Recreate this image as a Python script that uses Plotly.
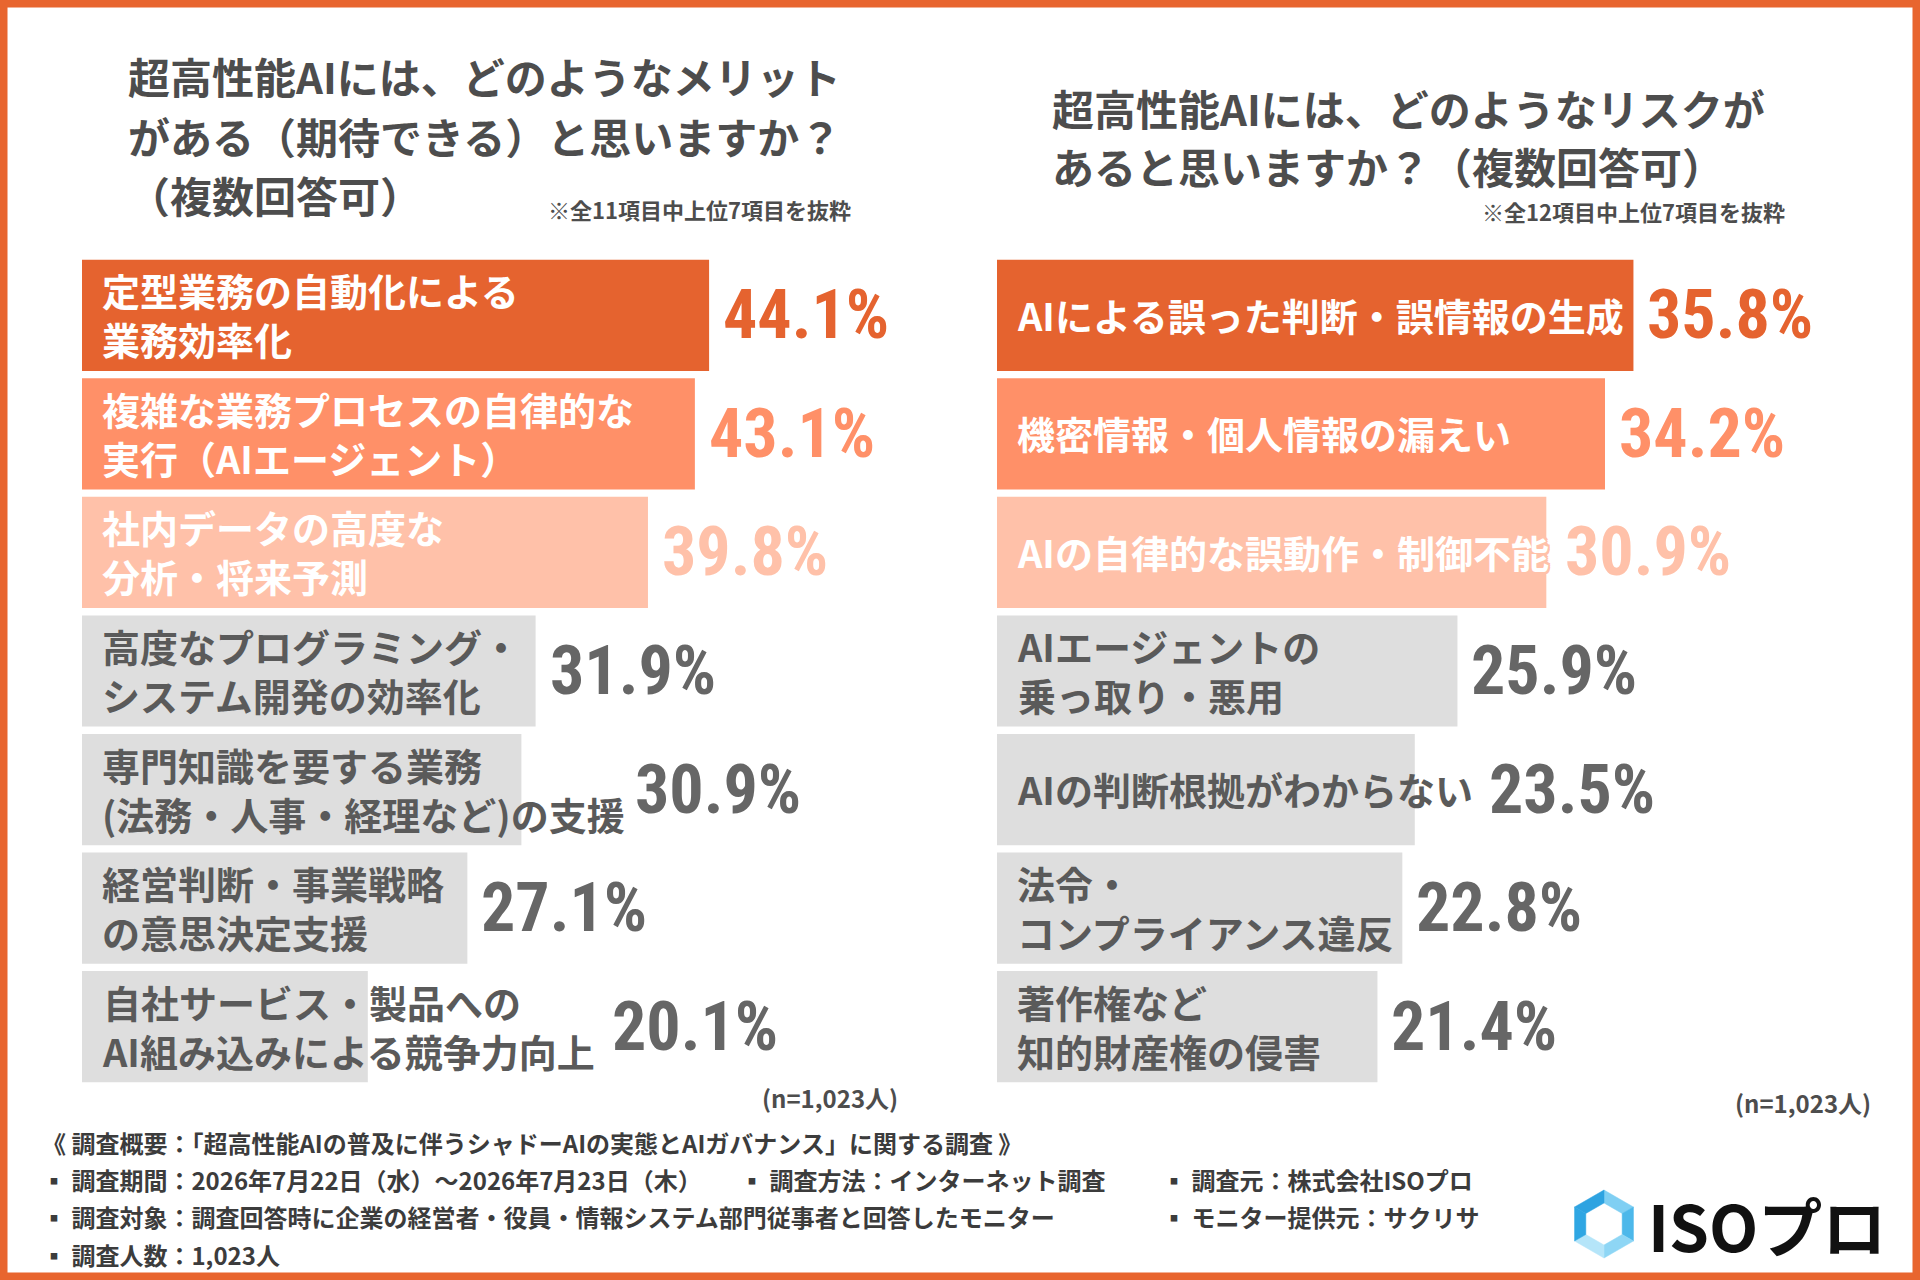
import math
import plotly.graph_objects as go

W, H = 1920, 1280

# ---------------- data ----------------
merit_labels = [
    "定型業務の自動化による\n業務効率化",
    "複雑な業務プロセスの自律的な\n実行（AIエージェント）",
    "社内データの高度な\n分析・将来予測",
    "高度なプログラミング・\nシステム開発の効率化",
    "専門知識を要する業務\n(法務・人事・経理など)の支援",
    "経営判断・事業戦略\nの意思決定支援",
    "自社サービス・製品への\nAI組み込みによる競争力向上",
]
merit_values = [44.1, 43.1, 39.8, 31.9, 30.9, 27.1, 20.1]

risk_labels = [
    "AIによる誤った判断・誤情報の生成",
    "機密情報・個人情報の漏えい",
    "AIの自律的な誤動作・制御不能",
    "AIエージェントの\n乗っ取り・悪用",
    "AIの判断根拠がわからない",
    "法令・\nコンプライアンス違反",
    "著作権など\n知的財産権の侵害",
]
risk_values = [35.8, 34.2, 30.9, 25.9, 23.5, 22.8, 21.4]

merit_title = ["超高性能AIには、どのようなメリット",
               "がある（期待できる）と思いますか？",
               "（複数回答可）"]
risk_title = ["超高性能AIには、どのようなリスクが",
              "あると思いますか？（複数回答可）"]
merit_note = "※全11項目中上位7項目を抜粋"
risk_note = "※全12項目中上位7項目を抜粋"
n_label = "(n=1,023人)"

footer_head = "《 調査概要：「超高性能AIの普及に伴うシャドーAIの実態とAIガバナンス」に関する調査 》"
footer_col1 = ["▪ 調査期間：2026年7月22日（水）～2026年7月23日（木）",
               "▪ 調査対象：調査回答時に企業の経営者・役員・情報システム部門従事者と回答したモニター",
               "▪ 調査人数：1,023人"]
footer_col2 = ["▪ 調査方法：インターネット調査"]
footer_col3 = ["▪ 調査元：株式会社ISOプロ", "▪ モニター提供元：サクリサ"]
logo_text = "ISOプロ"

# ---------------- style ----------------
ORANGE = "#E5632F"
SALMON = "#FF9068"
PEACH = "#FFC1A9"
GRAY_BAR = "#DEDEDE"
GRAY_TXT = "#5A5A5A"
GRAY_VAL = "#666666"
TITLE_C = "#4D4D4D"
JP = "Noto Sans CJK JP"
NUM = "Roboto Condensed, Roboto, Noto Sans"

bar_colors = [ORANGE, SALMON, PEACH] + [GRAY_BAR] * 4
lab_colors = ["white"] * 3 + [GRAY_TXT] * 4
val_colors = [ORANGE, SALMON, PEACH] + [GRAY_VAL] * 4

LAB_SIZE = 38
VAL_SIZE = 68
INSET = 18
GAP = 12


def px(x):
    return x / W


def py(y):
    return 1 - y / H


def em_width(s):
    w = 0
    for c in s:
        if c in "()":
            w += 0.35
        elif ord(c) < 128:
            w += 0.55
        else:
            w += 1.0
    return w


panels = [
    dict(labels=merit_labels, values=merit_values, xa="x", ya="y",
         x0=82, x1=793, rng=50),
    dict(labels=risk_labels, values=risk_values, xa="x2", ya="y2",
         x0=997, x1=1797, rng=45),
]
Y_TOP, Y_BOT = 256, 1086

fig = go.Figure()
annotations = []

for p in panels:
    fig.add_trace(go.Bar(
        x=p["values"], y=p["labels"], orientation="h",
        marker=dict(color=bar_colors, line=dict(width=0)),
        xaxis=p["xa"], yaxis=p["ya"], hoverinfo="skip", showlegend=False,
    ))
    ppu = (p["x1"] - p["x0"]) / p["rng"]
    for i, (lab, v) in enumerate(zip(p["labels"], p["values"])):
        lines = lab.split("\n")
        shadow = "none"
        if i < 3:
            c = bar_colors[i]
            shadow = (f"2px 0 0 {c}, -2px 0 0 {c}, 0 2px 0 {c}, 0 -2px 0 {c}, "
                      f"2px 2px 0 {c}, -2px -2px 0 {c}, 2px -2px 0 {c}, -2px 2px 0 {c}")
        annotations.append(dict(
            x=0, y=lab, xref=p["xa"], yref=p["ya"], text="<br>".join(lines),
            xanchor="left", yanchor="middle", align="left", xshift=INSET,
            yshift=1, showarrow=False,
            font=dict(family=JP, size=LAB_SIZE, color=lab_colors[i],
                      weight="bold", shadow=shadow),
        ))
        text_end = INSET + max(em_width(l) for l in lines) * LAB_SIZE
        bar_end = v * ppu
        xshift = max(0, text_end - bar_end) + GAP
        annotations.append(dict(
            x=v, y=lab, xref=p["xa"], yref=p["ya"], text=f"{v:.1f}%",
            xanchor="left", yanchor="middle", xshift=xshift, yshift=0,
            showarrow=False,
            font=dict(family=NUM, size=VAL_SIZE, color=val_colors[i], weight="bold"),
        ))


def paper_text(text, x, y, size, color=TITLE_C, anchor="left", family=JP, weight="bold"):
    annotations.append(dict(
        x=px(x), y=py(y), xref="paper", yref="paper", text=text,
        xanchor=anchor, yanchor="middle", showarrow=False,
        font=dict(family=family, size=size, color=color, weight=weight),
    ))


# titles
for k, t in enumerate(merit_title):
    paper_text(t, 126, 76 + 59 * k, 42)
for k, t in enumerate(risk_title):
    paper_text(t, 1050, 108 + 57 * k, 42)
paper_text(merit_note, 853, 209, 22, anchor="right")
paper_text(risk_note, 1787, 211, 22, anchor="right")
paper_text(n_label, 900, 1097, 24, anchor="right")
paper_text(n_label, 1873, 1102, 24, anchor="right")

# footer
FOOT_C = "#3C3C3C"
FOOT_Y0, FOOT_DY = 1179, 37.5
paper_text(footer_head, 40, 1142, 24, color=FOOT_C)
for k, t in enumerate(footer_col1):
    paper_text(t, 40, FOOT_Y0 + FOOT_DY * k, 24, color=FOOT_C)
for k, t in enumerate(footer_col2):
    paper_text(t, 738, FOOT_Y0 + FOOT_DY * k, 24, color=FOOT_C)
for k, t in enumerate(footer_col3):
    paper_text(t, 1160, FOOT_Y0 + FOOT_DY * k, 24, color=FOOT_C)

# logo text
paper_text(logo_text, 1646, 1224, 64, color="#111111")

# ---------------- shapes ----------------
shapes = []
# orange frame
shapes.append(dict(type="rect", xref="paper", yref="paper", x0=0, y0=0, x1=1, y1=1,
                   line=dict(color="#E8652F", width=15), fillcolor="rgba(0,0,0,0)",
                   layer="above"))

# hexagon logo
cx, cy, R_out, R_in = 1604, 1224, 34, 21


def hex_pt(r, k):
    a = math.radians(-90 + 60 * k)
    return cx + r * math.cos(a), cy + r * math.sin(a)


seg_colors = ["#7FCFF3", "#4DB8EA", "#8ED6F5", "#B5E5F9", "#2FA6E3", "#2EA3E1"]
for k in range(6):
    o1 = hex_pt(R_out, k); o2 = hex_pt(R_out, k + 1)
    i2 = hex_pt(R_in, k + 1); i1 = hex_pt(R_in, k)
    path = (f"M {px(o1[0])},{py(o1[1])} L {px(o2[0])},{py(o2[1])} "
            f"L {px(i2[0])},{py(i2[1])} L {px(i1[0])},{py(i1[1])} Z")
    shapes.append(dict(type="path", xref="paper", yref="paper", path=path,
                       fillcolor=seg_colors[k], line=dict(width=0.5, color=seg_colors[k])))

fig.update_layout(
    width=W, height=H, margin=dict(l=0, r=0, t=0, b=0),
    paper_bgcolor="white", plot_bgcolor="white",
    bargap=0.062, showlegend=False,
    xaxis=dict(domain=[px(82), px(793)], range=[0, 50], visible=False, fixedrange=True),
    xaxis2=dict(domain=[px(997), px(1797)], range=[0, 45], visible=False, fixedrange=True),
    yaxis=dict(domain=[py(Y_BOT), py(Y_TOP)], categoryorder="array",
               categoryarray=merit_labels, autorange="reversed", visible=False, anchor="x"),
    yaxis2=dict(domain=[py(Y_BOT), py(Y_TOP)], categoryorder="array",
                categoryarray=risk_labels, autorange="reversed", visible=False, anchor="x2"),
    annotations=annotations, shapes=shapes,
)

fig.write_html("out.html", config={"displayModeBar": False},
               post_script="document.body.style.margin='0';document.body.style.overflow='hidden';")
